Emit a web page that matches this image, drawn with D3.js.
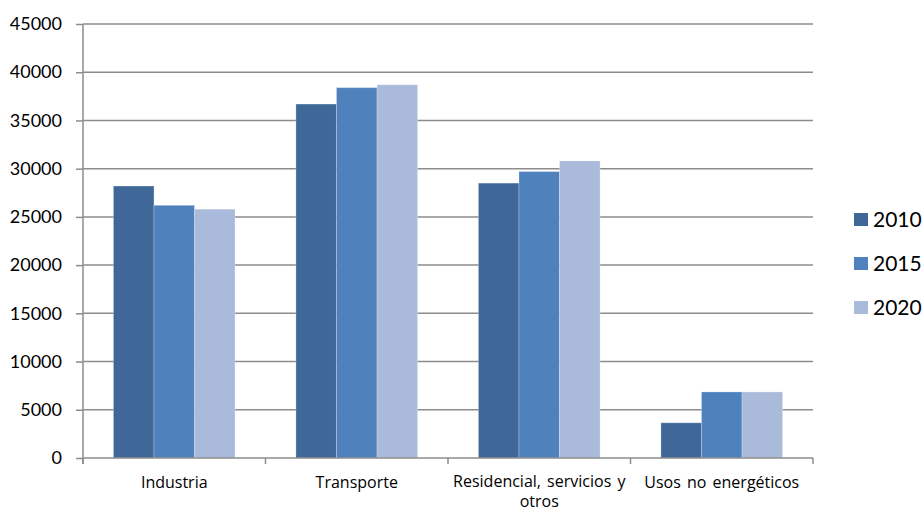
<!DOCTYPE html>
<html>
<head>
<meta charset="utf-8">
<script src="https://cdn.jsdelivr.net/npm/d3@7"></script>
<style>
  html, body { margin: 0; padding: 0; background: #fff; }
  svg { display: block; font-family: Lato, "Open Sans", sans-serif; }
</style>
</head>
<body>
<svg id="chart" width="924" height="512"></svg>
<script>
// Consumo final de energía por sector
const categories = ["Industria", "Transporte", "Residencial, servicios y otros", "Usos no energéticos"];
const categoryLines = [["Industria"], ["Transporte"], ["Residencial, servicios y", "otros"], ["Usos no energéticos"]];
const years = ["2010", "2015", "2020"];
const values2010 = [28200, 36700, 28500, 3650];
const values2015 = [26200, 38400, 29700, 6850];
const values2020 = [25800, 38700, 30800, 6850];
const yTicks = [0, 5000, 10000, 15000, 20000, 25000, 30000, 35000, 40000, 45000];
const colors = ["#3F6899", "#4F81BD", "#AABADA"];

const series = [values2010, values2015, values2020];

const svg = d3.select("#chart");
const plot = { left: 83, right: 813, top: 24, bottom: 458 };

const x = d3.scaleBand()
  .domain(categories)
  .range([plot.left, plot.right])
  .paddingInner(1 / 3)
  .paddingOuter(1 / 6);

const xSeries = d3.scaleBand()
  .domain(years)
  .range([0, x.bandwidth()]);

const y = d3.scaleLinear()
  .domain([0, 45000])
  .range([plot.bottom, plot.top]);

const grey = "#8c8c8c";

// horizontal gridlines
svg.append("g")
  .selectAll("line")
  .data(yTicks.filter(d => d > 0))
  .join("line")
  .attr("x1", plot.left)
  .attr("x2", plot.right)
  .attr("y1", d => y(d))
  .attr("y2", d => y(d))
  .attr("stroke", grey)
  .attr("stroke-width", 1.5);

// bars
const rows = categories.map((c, i) => ({ c, vals: years.map((yr, k) => ({ yr, k, v: series[k][i] })) }));
svg.append("g")
  .selectAll("g")
  .data(rows)
  .join("g")
  .attr("transform", d => `translate(${x(d.c)},0)`)
  .selectAll("rect")
  .data(d => d.vals)
  .join("rect")
  .attr("x", d => xSeries(d.yr))
  .attr("width", xSeries.bandwidth())
  .attr("y", d => y(d.v))
  .attr("height", d => y(0) - y(d.v))
  .attr("fill", d => colors[d.k])
  .attr("stroke", "rgba(255,255,255,0.25)")
  .attr("stroke-width", 1);

// y axis
const yAxis = d3.axisLeft(y)
  .tickValues(yTicks)
  .tickSize(7)
  .tickPadding(14)
  .tickFormat(d3.format("d"));
const gy = svg.append("g")
  .attr("transform", `translate(${plot.left},0)`)
  .call(yAxis);
gy.select(".domain").attr("stroke", grey).attr("stroke-width", 1.5)
  .attr("d", `M0,${plot.top}V${plot.bottom + 6}`);
gy.selectAll(".tick line").attr("stroke", grey).attr("stroke-width", 1.5);
gy.selectAll(".tick text")
  .attr("fill", "#000")
  .style("font-size", "18px")
  .style("font-family", "Lato, 'Open Sans', sans-serif");

// x axis: category boundaries as ticks
const gx = svg.append("g")
  .attr("transform", `translate(0,${plot.bottom})`);
gx.append("line")
  .attr("x1", plot.left).attr("x2", plot.right)
  .attr("stroke", grey).attr("stroke-width", 1.5);
const bounds = categories.map(c => x(c) - x.step() * (1 / 6)).concat([plot.right]);
gx.selectAll(".bound")
  .data(bounds)
  .join("line")
  .attr("class", "bound")
  .attr("x1", d => d).attr("x2", d => d)
  .attr("y1", 0).attr("y2", 6)
  .attr("stroke", grey).attr("stroke-width", 1.5);

// category labels, one text element per line
const labelLines = [];
categories.forEach((c, i) => {
  const lines = categoryLines[i];
  lines.forEach((l, j) => labelLines.push({
    l,
    cx: x(c) + x.bandwidth() / 2,
    y: lines.length > 1 ? 29 + j * 20 : 30
  }));
});
gx.selectAll(".cat")
  .data(labelLines)
  .join("text")
  .attr("class", "cat")
  .attr("x", d => d.cx)
  .attr("y", d => d.y)
  .attr("text-anchor", "middle")
  .attr("fill", "#000")
  .style("font-family", "'Open Sans', Lato, sans-serif")
  .style("font-size", "16px")
  .style("word-spacing", "2px")
  .text(d => d.l);

// legend
const legend = svg.append("g")
  .attr("transform", "translate(854,213)");
const item = legend.selectAll("g")
  .data(years)
  .join("g")
  .attr("transform", (d, i) => `translate(0,${i * 44})`);
item.append("rect")
  .attr("width", 14).attr("height", 13)
  .attr("fill", (d, i) => colors[i]);
item.append("text")
  .attr("x", 19)
  .attr("y", 14)
  .attr("fill", "#000")
  .style("font-size", "21px")
  .text(d => d);
</script>
</body>
</html>
